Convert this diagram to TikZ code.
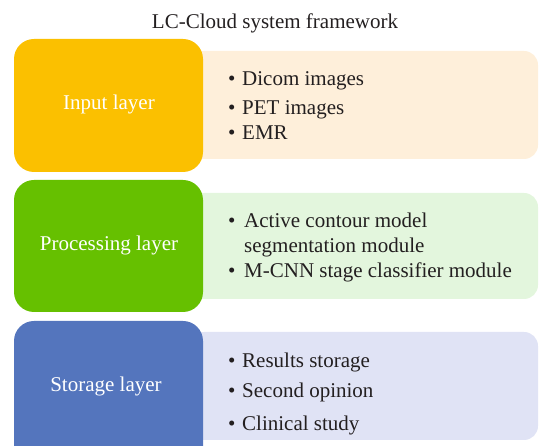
\documentclass[tikz,border=0pt]{standalone}
\usepackage{fontspec}
\setmainfont{Liberation Serif}
\definecolor{inY}{HTML}{FBC000}
\definecolor{inYl}{HTML}{FEEFDA}
\definecolor{prG}{HTML}{66C000}
\definecolor{prGl}{HTML}{E3F6DD}
\definecolor{stB}{HTML}{5475BD}
\definecolor{stBl}{HTML}{E0E3F5}
\definecolor{txt}{HTML}{231F20}
\begin{document}
\begin{tikzpicture}[x=1pt,y=-1pt,
  layerbox/.style={rounded corners=20pt},
  infobox/.style={rounded corners=14pt},
  layertext/.style={anchor=base,text=white,inner sep=0pt,font=\fontsize{21}{25}\selectfont},
  item/.style={anchor=base west,text=txt,inner sep=0pt,font=\fontsize{21}{25}\selectfont},
  bul/.style={anchor=base west,text=txt,inner sep=0pt,font=\fontsize{21}{25}\selectfont}]
\useasboundingbox (0,0) rectangle (539,446);
\clip (0,0) rectangle (539,446);
\node[anchor=base,text=txt,inner sep=0pt,font=\fontsize{21}{25}\selectfont] (title) at (275,29) {LC-Cloud system framework};
% input
\fill[inYl,infobox] (190,51) rectangle (538,159);
\fill[inY,layerbox] (14,39) rectangle (203,172);
\node[layertext] (inl) at (109,110) {Input layer};
\node[item] (i1) at (242,86) {Dicom images};
\node[item] (i2) at (242,115) {PET images};
\node[item] (i3) at (242,140) {EMR};
\foreach \n/\y in {b1/86,b2/115,b3/140} \node[bul] (\n) at (228,\y) {\textbullet};
% processing
\fill[prGl,infobox] (190,193) rectangle (538,299);
\fill[prG,layerbox] (14,180) rectangle (203,312);
\node[layertext] (prl) at (109,251) {Processing layer};
\node[item] (p1) at (244,228) {Active contour model};
\node[item] (p2) at (244,253) {segmentation module};
\node[item] (p3) at (244,278) {M-CNN stage classifier module};
\foreach \n/\y in {b4/228,b6/278} \node[bul] (\n) at (228,\y) {\textbullet};
% storage
\fill[stBl,infobox] (190,332) rectangle (538,440);
\fill[stB,layerbox] (14,321) rectangle (203,470);
\node[layertext] (stl) at (106,392) {Storage layer};
\node[item] (s1) at (242,368) {Results storage};
\node[item] (s2) at (242,398) {Second opinion};
\node[item] (s3) at (242,431) {Clinical study};
\foreach \n/\y in {b7/368,b8/398,b9/431} \node[bul] (\n) at (228,\y) {\textbullet};
\end{tikzpicture}
\end{document}
